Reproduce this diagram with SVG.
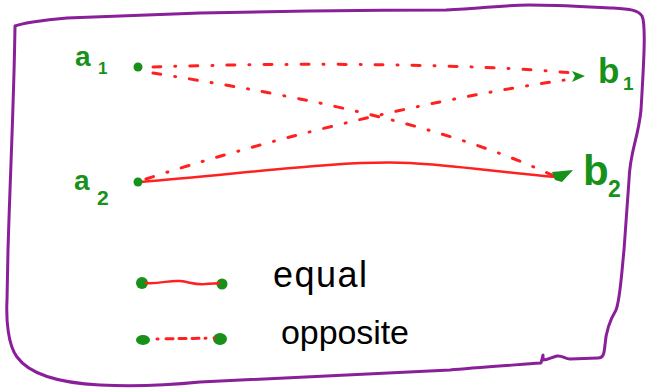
<svg xmlns="http://www.w3.org/2000/svg" width="646" height="388" viewBox="0 0 646 388">
<style>
.frame{fill:none;stroke:#8a1f9a;stroke-width:3;stroke-linejoin:round;stroke-linecap:round}
.opp{fill:none;stroke:#ff2020;stroke-width:3;stroke-linecap:round;stroke-dasharray:8 14 1 14}
.eq{fill:none;stroke:#ff2020;stroke-width:2.5;stroke-linecap:round}
.dot{fill:#17911a}
.lbl{font-family:"Liberation Sans",Arial,sans-serif;fill:#17911a;font-weight:bold}
.leg{font-family:"Liberation Sans",Arial,sans-serif;fill:#000}
</style>
<rect width="646" height="388" fill="#fff"/>
<path class="frame" d="M15,26 C20,24 40,20 67,18 L200,13 C300,11 400,10 446,10 C480,9 500,5 529,5 C560,5 590,7 613,8 C630,9 638,10 642,16 C646,24 644,60 641,110 C638,140 630,150 629,180 L624,250 C621,280 620,300 616,310 C610,320 606,330 605,345 C604,355 603,358 598,358 L570,359 C565,359 562,355 557,356 C552,357 548,360 543,360 L543,355 L541,363 C500,366 470,368 450,370 L200,382 C170,385 140,387 100,385 C60,383 30,375 17,357 C8,345 6,320 7,300 L8,250 C10,180 14,100 15,26 Z"/>
<g id="connectors">
<path class="opp" d="M153,67 C300,62 480,64 572,73"/>
<path class="opp" d="M153,73 C260,90 430,118 554,176"/>
<path class="opp" d="M146,179 C250,145 420,100 572,79"/>
<path class="eq" d="M140,182 C250,173 340,160 410,163 C450,165 500,172 556,177"/>
</g>
<g id="a1">
<circle class="dot" cx="138" cy="67" r="4.5"/>
<text class="lbl" x="75" y="66" font-size="28">a</text>
<text class="lbl" x="98" y="74" font-size="17">1</text>
</g>
<g id="a2">
<circle class="dot" cx="138" cy="182" r="4.5"/>
<text class="lbl" x="74" y="190" font-size="28">a</text>
<text class="lbl" x="97" y="205" font-size="21">2</text>
</g>
<g id="b1">
<polygon class="dot" points="572,71 585,76 572,82 575,76"/>
<text class="lbl" x="598" y="83" font-size="35">b</text>
<text class="lbl" x="623" y="90" font-size="19">1</text>
</g>
<g id="b2">
<polygon class="dot" points="552,172 573,170 562,182 555,180"/>
<text class="lbl" x="583" y="185" font-size="42">b</text>
<text class="lbl" x="608" y="197" font-size="23">2</text>
</g>
<g id="legend-equal">
<circle class="dot" cx="142" cy="283" r="6"/>
<circle class="dot" cx="222" cy="284" r="5.5"/>
<path class="eq" d="M146,283 C160,284 170,280 180,281 C190,282 195,285 205,284 C212,283 216,284 219,283"/>
<text class="leg" x="273" y="287" font-size="36" textLength="94" lengthAdjust="spacing">equal</text>
</g>
<g id="legend-opposite">
<ellipse class="dot" cx="143" cy="340" rx="7" ry="5"/>
<ellipse class="dot" cx="220" cy="339" rx="7" ry="6"/>
<path class="opp" d="M157,339 L214,338" style="stroke-dasharray:1 8 7 6 7 6 7 6"/>
<text class="leg" x="281" y="344" font-size="34" textLength="128" lengthAdjust="spacing">opposite</text>
</g>
</svg>
